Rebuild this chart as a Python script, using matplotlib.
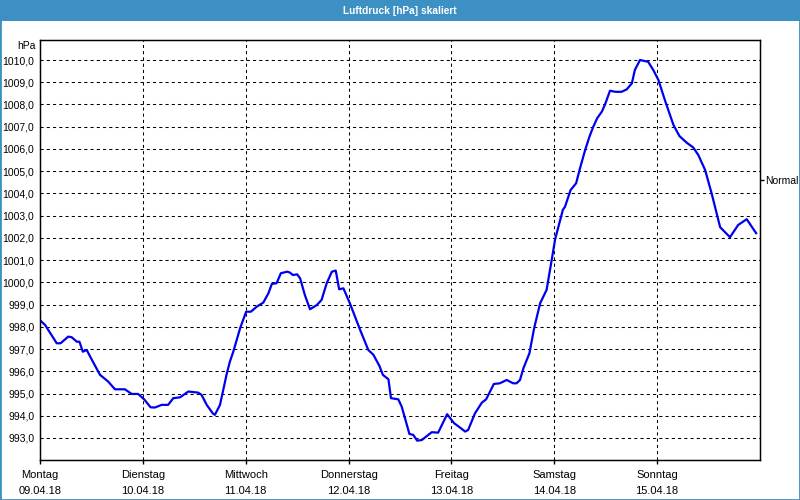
import matplotlib
matplotlib.use("Agg")
from matplotlib import pyplot as plt
from matplotlib.patches import Rectangle

plt.rcParams['font.family'] = ['Liberation Sans', 'DejaVu Sans']

title = "Luftdruck [hPa] skaliert"
unit = "hPa"
days = ["Montag", "Dienstag", "Mittwoch", "Donnerstag", "Freitag", "Samstag", "Sonntag"]
dates = ["09.04.18", "10.04.18", "11.04.18", "12.04.18", "13.04.18", "14.04.18", "15.04.18"]
normal_level = 1004.6

# hours since Monday 00:00
hours = [0, 1.2, 3.9, 4.8, 6.6, 7.4, 8.6, 9.2, 10.0, 10.9,
         11.7, 14.0, 15.9, 17.5, 19.8, 21.4, 22.9, 24.3, 25.8, 26.8,
         28.4, 29.9, 31.1, 32.7, 34.6, 36.9, 37.7, 38.9, 40.3, 40.8,
         42.0, 43.6, 44.3, 45.1, 46.7, 48.1, 49.2, 50.6, 52.1, 53.3,
         54.1, 55.2, 56.2, 57.7, 58.3, 59.0, 60.0, 60.7, 61.8, 63.0,
         64.6, 65.7, 66.9, 68.1, 69.0, 69.2, 69.8, 70.8, 72.3, 74.7,
         76.6, 77.8, 79.2, 80.0, 81.3, 81.9, 83.6, 84.4, 86.2, 87.1,
         88.0, 89.1, 91.4, 92.9, 95.0, 96.6, 98.2, 99.2, 99.9, 101.5,
         103.1, 104.1, 105.9, 107.3, 108.9, 110.4, 111.2, 112.0, 112.8, 114.2,
         115.3, 116.7, 118.2, 119.4, 120.2, 122.0, 122.5, 123.8, 125.1, 126.0,
         127.2, 128.2, 129.1, 130.0, 131.1, 131.8, 133.0, 134.2, 135.7, 136.9,
         138.1, 138.8, 140.0, 140.9, 141.9, 143.1, 144.3, 145.8, 147.8, 149.2,
         150.9, 152.4, 153.6, 155.2, 156.7, 158.7, 161.0, 162.9, 164.9, 167.1]

pressure = [998.3, 998.08, 997.26, 997.26, 997.56, 997.53, 997.33, 997.33, 996.88, 996.96,
            996.66, 995.84, 995.54, 995.19, 995.19, 994.98, 994.98, 994.74, 994.38, 994.37,
            994.49, 994.49, 994.79, 994.83, 995.09, 995.04, 994.94, 994.49, 994.11, 994.04,
            994.49, 995.91, 996.43, 996.88, 997.94, 998.68, 998.68, 998.91, 999.09, 999.51,
            999.93, 999.96, 1000.41, 1000.48, 1000.44, 1000.33, 1000.36, 1000.18, 999.43, 998.79,
            998.98, 999.21, 999.96, 1000.48, 1000.53, 1000.33, 999.69, 999.73, 999.06, 997.86,
            996.96, 996.74, 996.24, 995.84, 995.64, 994.79, 994.74, 994.41, 993.18, 993.14,
            992.88, 992.91, 993.26, 993.24, 994.07, 993.67, 993.44, 993.29, 993.36, 994.11,
            994.59, 994.74, 995.43, 995.46, 995.61, 995.46, 995.46, 995.61, 996.14, 996.81,
            997.94, 999.06, 999.66, 1001.01, 1001.94, 1003.26, 1003.40, 1004.15, 1004.46, 1005.13,
            1005.95, 1006.55, 1007.00, 1007.38, 1007.68, 1007.98, 1008.62, 1008.57, 1008.57, 1008.68,
            1008.95, 1009.55, 1010.0, 1009.96, 1009.92, 1009.55, 1009.10, 1008.20, 1007.08, 1006.58,
            1006.28, 1006.07, 1005.73, 1005.05, 1004.01, 1002.48, 1002.03, 1002.58, 1002.84, 1002.21]

bar_color = "#3d90c4"

fig = plt.figure(figsize=(8, 5), dpi=100)
fig.patch.set_facecolor("white")

# title bar + thin frame round the whole picture
fig.patches.append(Rectangle((0, 1 - 21 / 500), 1, 21 / 500, transform=fig.transFigure,
                             facecolor=bar_color, edgecolor="none"))
fig.patches.append(Rectangle((0, 0), 1, 1, transform=fig.transFigure, fill=False,
                             edgecolor=bar_color, lw=2))
fig.text(0.5, 1 - 10.5 / 500, title, color="white", weight="bold",
         ha="center", va="center", fontsize=7.3)

ax = fig.add_axes([40 / 800, 40 / 500, 720 / 800, 420 / 500])
ax.plot(hours, pressure, color="#0000f0", lw=1.6, zorder=3)

ax.set_xlim(0, 168)
ax.set_ylim(992.01, 1010.9)

ax.set_xticks([24 * i for i in range(len(days))])
ax.set_xticklabels([d + "\n" + t for d, t in zip(days, dates)], linespacing=1.75)
ax.tick_params(axis="x", direction="out", length=3, width=1, pad=4, labelsize=8)

yt = list(range(993, 1011))
ax.set_yticks(yt)
ax.set_yticklabels([("%.1f" % v).replace(".", ",") for v in yt])
ax.tick_params(axis="y", length=0, pad=4, labelsize=7.5)

ax.grid(True, color="black", lw=0.75, linestyle=(0, (3, 3)))
for s in ax.spines.values():
    s.set_linewidth(1)
    s.set_color("black")

# "Normal" marker on the right axis
ax2 = ax.twinx()
ax2.set_ylim(ax.get_ylim())
ax2.set_yticks([normal_level])
ax2.set_yticklabels(["Normal"])
ax2.tick_params(axis="y", direction="out", length=3, width=1, pad=1, labelsize=7.5)

fig.text(36 / 800, 1 - 46 / 500, unit, ha="right", va="center", fontsize=7.5)

fig.savefig("out.png", dpi=100)
